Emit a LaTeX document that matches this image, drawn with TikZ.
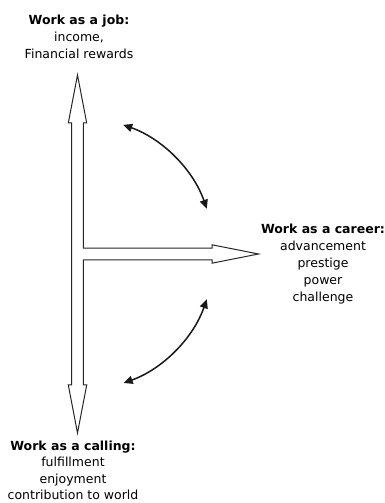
\documentclass[tikz,border=0pt]{standalone}
\usepackage{fontspec}
\setmainfont{DejaVu Sans}
\usetikzlibrary{arrows.meta}
\begin{document}
\begin{tikzpicture}[x=1pt,y=1pt,
  bigarrow/.style={draw=black!85,line width=1pt,line join=miter,fill=white},
  swing/.style={line width=1.5pt,black!90,{Triangle[length=9pt,width=8pt]}-{Triangle[length=9pt,width=8pt]}},
  label/.style={align=center,inner sep=0pt,anchor=north,font=\fontsize{12.5}{17}\selectfont}]
\useasboundingbox (0,0) rectangle (384,503);
% junction
\coordinate (J) at (77.5,249);
% outline of the T-shaped double arrow
\coordinate (tT) at (77.5,428);
\coordinate (tR) at (86.7,380);
\coordinate (tRs) at (83.3,380);
\coordinate (hA) at (83.3,254.8);
\coordinate (hB) at (212,254.8);
\coordinate (hC) at (212,258.2);
\coordinate (hT) at (258.5,249);
\coordinate (hD) at (212,239.8);
\coordinate (hE) at (212,243.2);
\coordinate (hF) at (83.3,243.2);
\coordinate (bRs) at (83.3,118);
\coordinate (bR) at (86.7,118);
\coordinate (bT) at (77.5,70);
\coordinate (bL) at (68.3,118);
\coordinate (bLs) at (71.7,118);
\coordinate (tLs) at (71.7,380);
\coordinate (tL) at (68.3,380);
\draw[bigarrow] (tT) -- (tR) -- (tRs) -- (hA) -- (hB) -- (hC) -- (hT) -- (hD) -- (hE) -- (hF)
  -- (bRs) -- (bR) -- (bT) -- (bL) -- (bLs) -- (tLs) -- (tL) -- cycle;
% curved double arrows
\draw[swing] ([shift={(70.5:137)}]J) arc[start angle=70.5,end angle=19.3,radius=137];
\draw[swing] ([shift={(-19.3:137)}]J) arc[start angle=-19.3,end angle=-70.3,radius=137];
% labels
\node[label] (job) at (79,488.2) {\textbf{Work as a job:}\\income,\hspace*{16pt}\\Financial rewards};
\node[label] (career) at (323,279.5) {\textbf{Work as a career:}\\advancement\\prestige\\power\\challenge};
\node[label,font=\fontsize{12.5}{16.5}\selectfont] (calling) at (73,62.5) {\textbf{Work as a calling:}\\fulfillment\\enjoyment\\contribution to world};
\end{tikzpicture}
\end{document}
